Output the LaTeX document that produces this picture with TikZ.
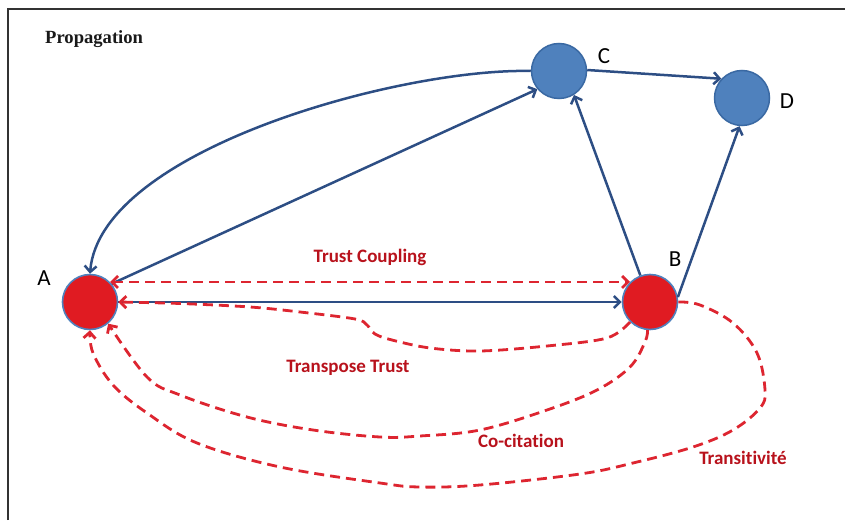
\documentclass[tikz,border=0pt]{standalone}
\usepackage{fontspec}
\setmainfont{Liberation Serif}
\newfontfamily\calfont[Ligatures=NoCommon]{Carlito}
\usetikzlibrary{arrows.meta}
\definecolor{edgeblue}{HTML}{2D4E84}
\definecolor{nodeblue}{HTML}{4F81BD}
\definecolor{nodeblueborder}{HTML}{3A69A3}
\definecolor{nodered}{HTML}{E01B22}
\definecolor{dashred}{HTML}{DD2530}
\definecolor{labelred}{HTML}{B8121C}
\definecolor{framegray}{HTML}{333333}
\begin{document}
\begin{tikzpicture}[x=1pt,y=1pt,
  bnode/.style={circle, minimum size=55pt, inner sep=0pt, fill=nodeblue, draw=nodeblueborder, line width=1.5pt},
  rnode/.style={circle, minimum size=55pt, inner sep=0pt, fill=nodered, draw=nodeblue, line width=1.6pt},
  letter/.style={font=\calfont\fontsize{23}{23}\selectfont, text=black, inner sep=0pt},
  rlabel/.style={font=\calfont\bfseries\fontsize{19}{19}\selectfont, text=labelred, inner sep=0pt, anchor=base},
  bedge/.style={draw=edgeblue, line width=2.5pt, -{Straight Barb[length=6pt,width=12pt]}},
  redge/.style={draw=dashred, line width=2.8pt, dash pattern=on 10pt off 6pt, -{Straight Barb[length=6pt,width=12pt]}},
]
\useasboundingbox (0,0) rectangle (845,520);
\draw[framegray, line width=1.5pt] (8,0) -- (8,511) -- (845,511);

\node[anchor=base west, inner sep=0pt, text=black!90, font=\bfseries\fontsize{18.6}{18.6}\selectfont] (title) at (45,476) {Propagation};

% nodes
\node[rnode] (A) at (90,218) {};
\node[rnode] (B) at (650,218) {};
\node[bnode] (C) at (559,449) {};
\node[bnode] (D) at (742,422) {};

\node[letter] (lA) at (44,242) {A};
\node[letter] (lB) at (675,261) {B};
\node[letter] (lC) at (604,464) {C};
\node[letter] (lD) at (787,419) {D};

% blue edges
\draw[bedge] (C.180) .. controls (400,452) and (100,370) .. (A.north);
\draw[bedge] (A.40) -- (C.220);
\draw[bedge] (B.110) -- (C.-58);
\draw[bedge] (B.10) -- (D.265);
\draw[bedge] (C.2) -- (D.137);
\draw[bedge] (A.east) -- (B.west);

% red dashed edges
\draw[redge, {Straight Barb[length=6pt,width=12pt]}-{Straight Barb[length=6pt,width=12pt]}] (A.45) -- (B.135);

\draw[redge] plot[smooth, tension=0.55] coordinates {(B.225) (607,182) (547,174) (480,169) (430,172) (392,180) (375,186) (367,195) (355,201) (300,208) (250,213) (180,216.5) (A.east)};

\draw[redge] plot[smooth, tension=0.6] coordinates {(B.265) (645,178) (630,153) (597,130) (547,110) (480,90) (420,84) (380,83) (313,90) (247,103) (180,125) (147,143) (A.-50)};

\draw[redge] plot[smooth, tension=0.6] coordinates {(B.east) (700,215) (733,197) (757,167) (765,130) (760,112) (733,90) (693,73) (633,57) (580,46) (480,35) (420,33) (380,37) (280,53) (197,77) (147,107) (113,135) (93,167) (A.south)};

% labels
\node[rlabel] (tc) at (370,258) {Trust Coupling};
\node[rlabel] (tt) at (348,148) {Transpose Trust};
\node[rlabel] (cc) at (521,73) {Co-citation};
\node[rlabel] (tr) at (743,56) {Transitivité};
\end{tikzpicture}
\end{document}
